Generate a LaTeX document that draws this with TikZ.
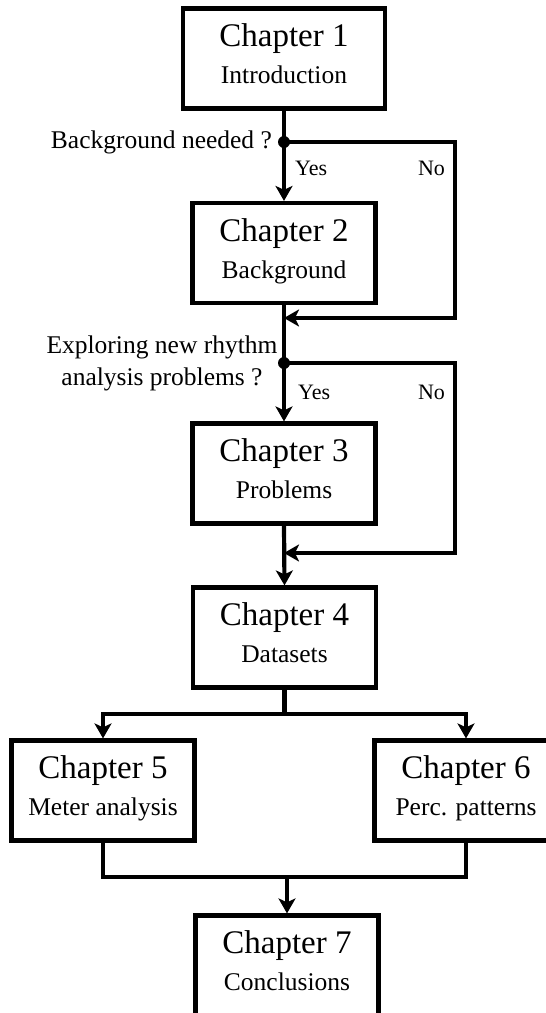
\documentclass[tikz,border=0pt]{standalone}
\usepackage{fontspec}
\setmainfont{Liberation Serif}
\usetikzlibrary{arrows.meta}

\begin{document}
\begin{tikzpicture}[x=1pt, y=-1pt, line width=4.2pt,
  chap/.style={draw, rectangle, inner sep=0pt, minimum width=183pt,
    minimum height=100pt, align=center, text height=62pt, text depth=12pt,
    font=\fontsize{25.5}{37}\selectfont},
  flow/.style={-{Stealth[length=15pt, width=17pt, inset=4pt]}},
  question/.style={inner sep=0pt, font=\fontsize{25.5}{32}\selectfont, align=center},
  answer/.style={inner sep=0pt, anchor=base west, font=\fontsize{22}{26}\selectfont},
  branch/.style={circle, fill, inner sep=0pt, minimum size=12pt}]
\newcommand{\chapline}[1]{{\fontsize{33}{37}\selectfont #1}}

\useasboundingbox (0,0) rectangle (546,1013);
\clip (0,0) rectangle (546,1013);

% chapter boxes
\node[chap, minimum width=202pt] (c1) at (284,58.5) {\chapline{Chapter 1}\\Introduction};
\node[chap] (c2) at (284,253) {\chapline{Chapter 2}\\Background};
\node[chap] (c3) at (284,473.5) {\chapline{Chapter 3}\\Problems};
\node[chap] (c4) at (284.5,637.5) {\chapline{Chapter 4}\\Datasets};
\node[chap] (c5) at (103,790.5) {\chapline{Chapter 5}\\Meter analysis};
\node[chap] (c6) at (466,790.5) {\chapline{Chapter 6}\\Perc. patterns};
\node[chap] (c7) at (287,965.5) {\chapline{Chapter 7}\\Conclusions};

% decision points and junctions
\coordinate (d1) at (284,142);
\coordinate (m1) at (284,318);
\coordinate (d2) at (284,363);
\coordinate (m2) at (284,553);
\coordinate (r1) at (455,142);
\coordinate (r2) at (455,363);
\coordinate (split) at (284.5,714);
\coordinate (join) at (287,877);

% first decision
\draw[flow] (c1.south) -- (c2.north);
\draw[flow] (d1) -- (r1) |- (m1);
\node[branch] (p1) at (d1) {};
\node[question, anchor=base east] (q1) at (274,148) {Background needed ?};
\node[answer] (y1) at (293,175) {Yes};
\node[answer] (n1) at (416,175) {No};

% second decision
\draw[flow] (c2.south) -- (c3.north);
\draw[flow] (d2) -- (r2) |- (m2);
\node[branch] (p2) at (d2) {};
\node[question, anchor=base] (q2) at (162,385) {Exploring new rhythm\\analysis problems ?};
\node[answer] (y2) at (296,399) {Yes};
\node[answer] (n2) at (416,399) {No};

% datasets and the two analysis chapters
\draw[flow] (c3.south) -- (c4.north);
\draw (c4.south) -- (split);
\draw[flow] (split) -| (c5.north);
\draw[flow] (split) -| (c6.north);

% both analyses lead to the conclusions
\draw (c5.south) -- (c5.south |- join) -- (c6.south |- join) -- (c6.south);
\draw[flow] (join) -- (c7.north);
\end{tikzpicture}
\end{document}
